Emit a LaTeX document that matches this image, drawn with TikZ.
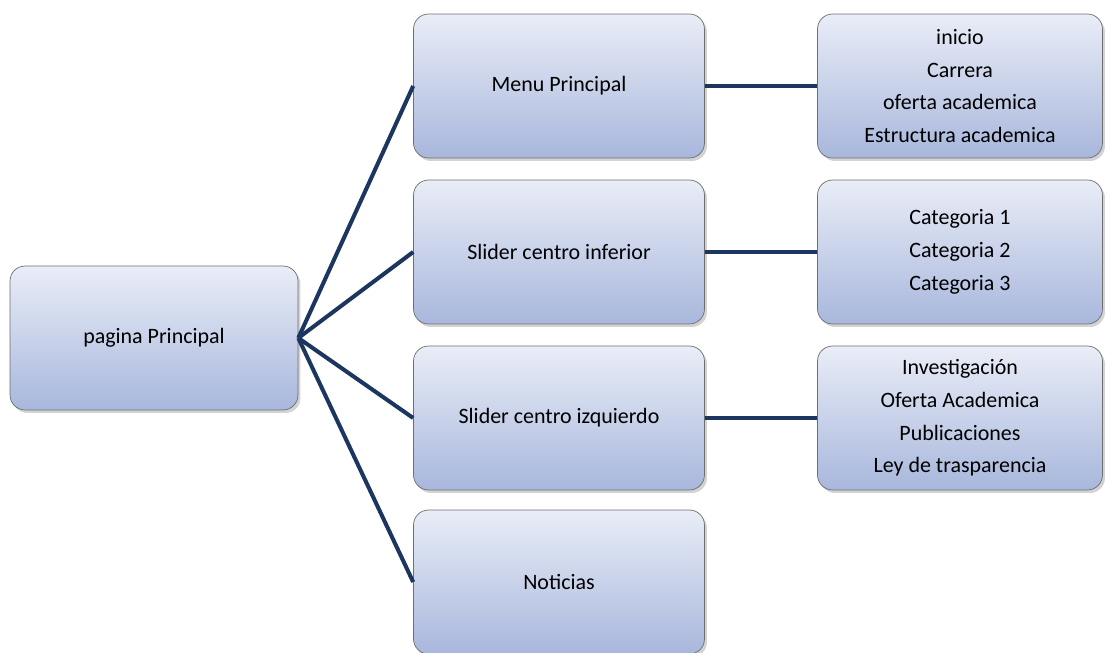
\documentclass[tikz,border=0pt]{standalone}
\usepackage{fontspec}
\setmainfont{Carlito}
\usetikzlibrary{shadows}
\definecolor{cajaArriba}{RGB}{233,237,247}
\definecolor{cajaAbajo}{RGB}{168,183,220}
\definecolor{cajaBorde}{RGB}{110,110,110}
\definecolor{lineaAzul}{RGB}{28,54,96}
\newcommand\Rama[5]{%
    \node[caja] (#1) at (559,#3) {#4};
    \draw[linea] (Centro) -- (#1.west);
    \node[caja,minimum width=5.7cm] (#2) at (960,#3) {#5};
    \draw[linea] (#1.east) -- (#2.west);
}

\begin{document}
\begin{tikzpicture}[x=0.02cm,y=-0.02cm,
    caja/.style={draw=cajaBorde,thin,rounded corners=0.3cm,
        minimum width=5.82cm,minimum height=2.88cm,align=center,
        top color=cajaArriba,bottom color=cajaAbajo,
        drop shadow={shadow xshift=0.05cm,shadow yshift=-0.06cm,opacity=0.35},
        font=\fontsize{12.5}{18.6}\selectfont},
    linea/.style={draw=lineaAzul,line width=2.3pt}]
    \useasboundingbox (0,0) rectangle (1107,653);
    \node[caja,minimum width=5.76cm] (Principal) at (154,338) {pagina Principal};
    \coordinate (Centro) at (Principal.east);
    \Rama{Menu}{MenuItems}{86}{Menu Principal}{inicio\\Carrera\\oferta academica\\Estructura academica}
    \Rama{Inferior}{InferiorItems}{252}{Slider centro inferior}{Categoria 1\\Categoria 2\\Categoria 3}
    \Rama{Izquierdo}{IzquierdoItems}{418}{Slider centro izquierdo}{Investigación\\Oferta Academica\\Publicaciones\\Ley de trasparencia}
    \node[caja] (Noticias) at (559,582) {Noticias};
    \draw[linea] (Centro) -- (Noticias.west);
\end{tikzpicture}
\end{document}
